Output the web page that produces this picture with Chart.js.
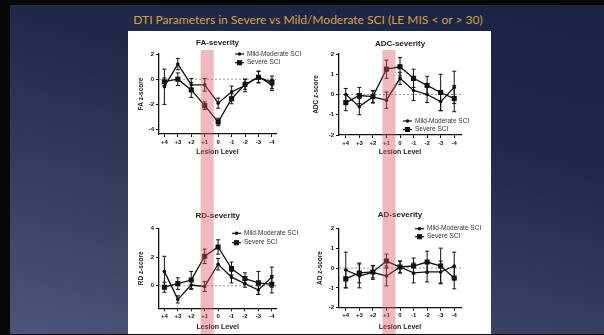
<!DOCTYPE html>
<html>
<head>
<meta charset="utf-8">
<script src="https://cdn.jsdelivr.net/npm/chart.js@4.4.1/dist/chart.umd.min.js"></script>
<style>
  html, body { margin: 0; padding: 0; width: 604px; height: 335px; overflow: hidden; background: #070707; }
  #slide { position: absolute; left: 10px; top: 5px; width: 594px; height: 329px;
           background: linear-gradient(195deg, #1a2343 0%, #1f2949 35%, #4b5678 100%); }
  #heading { position: absolute; left: 12px; top: 13px; width: 592px; text-align: center;
             color: #d9a13d; font: 12px Lato, "DejaVu Sans", sans-serif; line-height: 14px; white-space: nowrap; }
  #panel { position: absolute; left: 128px; top: 31px; width: 363px; height: 303px; background: #fff; }
  canvas { position: absolute; }
</style>
</head>
<body>
<div id="slide"></div>
<div id="heading">DTI Parameters in Severe vs Mild/Moderate SCI (LE MIS &lt; or &gt; 30)</div>
<div id="panel"></div>
<canvas id="fa" width="180" height="169" style="left:128px;top:31px"></canvas>
<canvas id="adc" width="183" height="169" style="left:308px;top:31px"></canvas>
<canvas id="rd" width="180" height="134" style="left:128px;top:200px"></canvas>
<canvas id="ad" width="183" height="134" style="left:308px;top:200px"></canvas>
<script>
// Lesion level relative to the injury (rostral + / caudal -)
const levels = ['+4', '+3', '+2', '+1', '0', '-1', '-2', '-3', '-4'];
const seriesNames = ['Mild-Moderate SCI', 'Severe SCI'];

// Mean z-scores and error (SEM) per level
const faMild      = [-0.6, 1.2, -0.45, -0.45, -1.9, -1.0, -0.5, 0.2, -0.45];
const faMildErr   = [1.4, 0.45, 0.5, 0.5, 0.4, 0.45, 0.5, 0.45, 0.45];
const faSevere    = [-0.2, 0.0, -0.85, -2.1, -3.4, -1.55, -0.4, 0.15, -0.25];
const faSevereErr = [0.3, 0.5, 0.6, 0.3, 0.3, 0.4, 0.4, 0.45, 0.5];
const faTicks     = [-4, -2, 0, 2];

const adcMild      = [0.0, -0.6, -0.12, -0.28, 0.8, 0.2, 0.0, -0.35, 0.35];
const adcMildErr   = [0.3, 0.4, 0.3, 0.4, 0.3, 0.5, 0.4, 0.45, 0.8];
const adcSevere    = [-0.4, -0.05, -0.1, 1.25, 1.37, 0.8, 0.45, 0.1, -0.2];
const adcSevereErr = [0.4, 0.4, 0.3, 0.45, 0.45, 0.45, 0.45, 0.9, 0.65];
const adcTicks     = [-2, -1, 0, 1, 2];

const rdMild      = [1.0, -0.95, 0.05, -0.05, 1.5, 0.6, 0.15, -0.3, 0.6];
const rdMildErr   = [1.05, 0.25, 0.3, 0.35, 0.4, 0.4, 0.25, 0.3, 0.7];
const rdSevere    = [-0.1, 0.15, 0.4, 2.05, 2.7, 1.2, 0.5, 0.2, 0.1];
const rdSevereErr = [0.35, 0.4, 0.6, 0.5, 0.5, 0.45, 0.4, 0.8, 0.6];
const rdTicks     = [0, 2, 4];

const adMild      = [-0.1, -0.4, -0.22, -0.4, 0.05, -0.25, -0.2, -0.2, 0.1];
const adMildErr   = [0.9, 0.6, 0.35, 0.5, 0.3, 0.5, 0.5, 0.55, 0.7];
const adSevere    = [-0.55, -0.25, -0.2, 0.35, 0.05, 0.1, 0.3, 0.1, -0.5];
const adSevereErr = [0.45, 0.5, 0.3, 0.35, 0.3, 0.4, 0.55, 0.9, 0.55];
const adTicks     = [-2, -1, 0, 1, 2];

// Highlighted lesion segment (+1 level), in level-index units
const bandFrom = 2.7;
const bandTo = 3.67;

const FONT = '"Liberation Sans", Arial, sans-serif';
const INK = '#111';
Chart.defaults.font.family = FONT;
Chart.defaults.color = INK;

function points(values) {
  return values.map((v, i) => ({ x: i, y: v }));
}

// Zero reference line, error bars, legend and highlight band
const decor = {
  id: 'decor',
  beforeDatasetsDraw(chart) {
    const { ctx, chartArea: a, scales: { y } } = chart;
    const y0 = y.getPixelForValue(0);
    ctx.save();
    ctx.strokeStyle = '#8c8c8c';
    ctx.lineWidth = 0.9;
    ctx.setLineDash([2, 2]);
    ctx.beginPath();
    ctx.moveTo(a.left, y0);
    ctx.lineTo(a.right, y0);
    ctx.stroke();
    ctx.setLineDash([]);
    ctx.strokeStyle = INK;
    ctx.lineWidth = 1;
    chart.data.datasets.forEach((ds, di) => {
      chart.getDatasetMeta(di).data.forEach((pt, i) => {
        const v = ds.data[i].y, e = ds.errors[i];
        const yt = y.getPixelForValue(v + e), yb = y.getPixelForValue(v - e);
        ctx.beginPath();
        ctx.moveTo(pt.x, yt); ctx.lineTo(pt.x, yb);
        ctx.moveTo(pt.x - 2, yt); ctx.lineTo(pt.x + 2, yt);
        ctx.moveTo(pt.x - 2, yb); ctx.lineTo(pt.x + 2, yb);
        ctx.stroke();
      });
    });
    ctx.restore();
  },
  afterDraw(chart, args, o) {
    const ctx = chart.ctx;
    ctx.save();
    ctx.font = '6.5px ' + FONT;
    ctx.textBaseline = 'middle';
    chart.data.datasets.forEach((ds, i) => {
      const ly = o.y + i * o.gap;
      ctx.strokeStyle = INK;
      ctx.lineWidth = 1.2;
      ctx.beginPath();
      ctx.moveTo(o.x, ly);
      ctx.lineTo(o.x + 9, ly);
      ctx.stroke();
      ctx.fillStyle = INK;
      const cx = o.x + 4.5;
      if (ds.pointStyle === 'rect') {
        const s = ds.pointRadius * Math.SQRT1_2;
        ctx.fillRect(cx - s, ly - s, 2 * s, 2 * s);
      } else {
        ctx.beginPath();
        ctx.arc(cx, ly, ds.pointRadius, 0, Math.PI * 2);
        ctx.fill();
      }
      ctx.fillStyle = '#333';
      ctx.fillText(ds.label, o.x + 12, ly);
    });
    const xs = chart.scales.x;
    const x1 = xs.getPixelForValue(bandFrom), x2 = xs.getPixelForValue(bandTo);
    ctx.fillStyle = 'rgba(222, 88, 94, 0.42)';
    ctx.fillRect(x1, o.bandTop, x2 - x1, chart.height - o.bandTop);
    ctx.restore();
  }
};

function makeChart(id, c) {
  return new Chart(document.getElementById(id), {
    type: 'line',
    data: {
      datasets: [
        { label: seriesNames[0], data: points(c.mild), errors: c.mildErr,
          borderColor: INK, backgroundColor: INK, borderWidth: 1.3,
          pointStyle: 'circle', pointRadius: 1.8, pointBackgroundColor: INK, pointBorderWidth: 0 },
        { label: seriesNames[1], data: points(c.severe), errors: c.severeErr,
          borderColor: INK, backgroundColor: INK, borderWidth: 1.3,
          pointStyle: 'rect', pointRadius: 3.6, pointBackgroundColor: INK, pointBorderWidth: 0 }
      ]
    },
    options: {
      responsive: false,
      animation: false,
      devicePixelRatio: 1,
      layout: { padding: { left: 0, right: c.padRight, top: 0, bottom: c.padBottom } },
      scales: {
        x: {
          type: 'linear', min: c.xMin, max: c.xMax,
          afterBuildTicks: s => { s.ticks = levels.map((_, i) => ({ value: i })); },
          afterFit: s => { s.height = c.xHeight; },
          ticks: { callback: v => levels[v], font: { size: 6, weight: 'bold' }, color: INK,
                   padding: 1.5, maxRotation: 0, autoSkip: false },
          grid: { drawOnChartArea: false, drawTicks: true, tickLength: 3, color: INK, lineWidth: 1 },
          border: { color: INK, width: 1.3 },
          title: { display: true, text: 'Lesion Level', font: { size: 7, weight: 'bold' }, color: '#222',
                   padding: { top: 0, bottom: c.xTitlePad } }
        },
        y: {
          min: c.yMin, max: c.yMax,
          afterBuildTicks: s => { s.ticks = c.yTicks.map(v => ({ value: v })); },
          afterFit: s => { s.width = c.yWidth; },
          ticks: { font: { size: 6, weight: 'bold' }, color: INK, padding: 2 },
          grid: { drawOnChartArea: false, drawTicks: true, tickLength: 3, color: INK, lineWidth: 1 },
          border: { color: INK, width: 1.3 },
          title: { display: true, text: c.yTitle, font: { size: 6.5, weight: 'bold' }, color: '#222',
                   padding: { top: c.yTitlePad, bottom: 0 } }
        }
      },
      plugins: {
        legend: { display: false },
        tooltip: { enabled: false },
        title: { display: true, text: c.title, fullSize: false, font: { size: 8, weight: 'bold' }, color: '#222',
                 padding: { top: c.titleTop, bottom: c.titleBottom } },
        decor: c.legend
      }
    },
    plugins: [decor]
  });
}

makeChart('fa', {
  title: 'FA-severity', yTitle: 'FA z-score',
  mild: faMild, mildErr: faMildErr, severe: faSevere, severeErr: faSevereErr,
  yMin: -4.35, yMax: 2, yTicks: faTicks, xMin: -0.4, xMax: 8.3,
  padRight: 32, padBottom: 29, xHeight: 37, yWidth: 31,
  titleTop: 7.2, titleBottom: 6.2, xTitlePad: 14.3, yTitlePad: 9.1,
  legend: { x: 107, y: 23, gap: 8.7, bandTop: 19 }
});

makeChart('adc', {
  title: 'ADC-severity', yTitle: 'ADC z-score',
  mild: adcMild, mildErr: adcMildErr, severe: adcSevere, severeErr: adcSevereErr,
  yMin: -2, yMax: 2, yTicks: adcTicks, xMin: -0.5, xMax: 8.5,
  padRight: 30, padBottom: 28, xHeight: 37, yWidth: 31,
  titleTop: 7.5, titleBottom: 5.9, xTitlePad: 15.8, yTitlePad: 4.1,
  legend: { x: 95, y: 90, gap: 8.5, bandTop: 19 }
});

makeChart('rd', {
  title: 'RD-severity', yTitle: 'RD z-score',
  mild: rdMild, mildErr: rdMildErr, severe: rdSevere, severeErr: rdSevereErr,
  yMin: -1.57, yMax: 4, yTicks: rdTicks, xMin: -0.4, xMax: 8.35,
  padRight: 31.5, padBottom: 0, xHeight: 25.7, yWidth: 31,
  titleTop: 10.9, titleBottom: 7.8, xTitlePad: 3.1, yTitlePad: 9.1,
  legend: { x: 104, y: 33.3, gap: 9.4, bandTop: 0 }
});

makeChart('ad', {
  title: 'AD-severity', yTitle: 'AD z-score',
  mild: adMild, mildErr: adMildErr, severe: adSevere, severeErr: adSevereErr,
  yMin: -2, yMax: 2, yTicks: adTicks, xMin: -0.5, xMax: 8.5,
  padRight: 30, padBottom: 0, xHeight: 26.3, yWidth: 31,
  titleTop: 10.2, titleBottom: 8.5, xTitlePad: 3.1, yTitlePad: 8.8,
  legend: { x: 107, y: 28.7, gap: 8, bandTop: 0 }
});
</script>
</body>
</html>
